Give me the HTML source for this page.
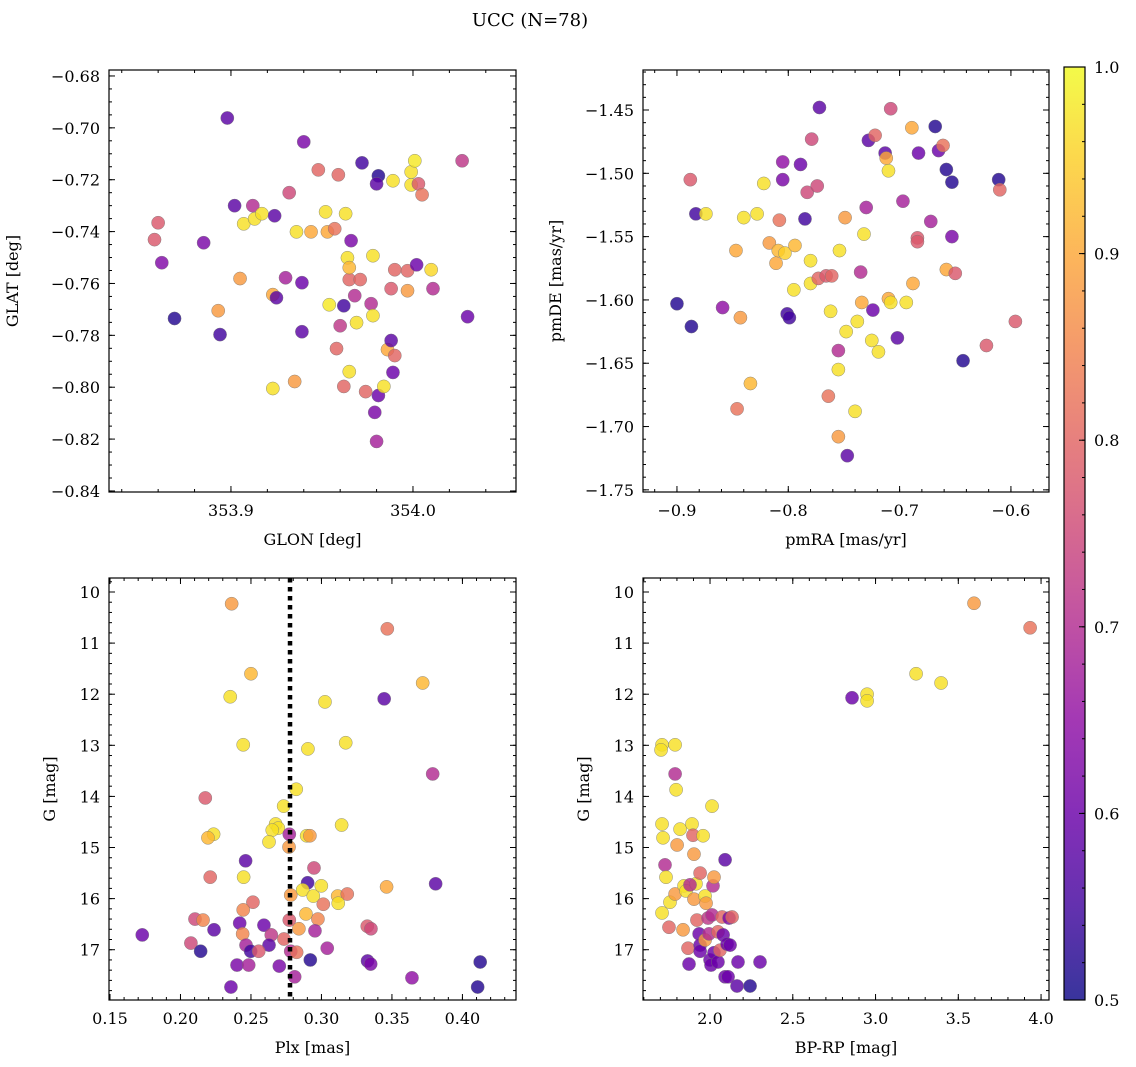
<!DOCTYPE html>
<html><head><meta charset="utf-8">
<style>
html,body{margin:0;padding:0;background:#fff;}
svg{display:block;font-family:"DejaVu Serif","Liberation Serif",serif;}
</style></head>
<body>
<svg id="chart" width="1136" height="1067" viewBox="0 0 1136 1067" xmlns="http://www.w3.org/2000/svg">
<text x="530" y="26" font-size="18" text-anchor="middle">UCC (N=78)</text>
</svg>
<script>
// ---- Panel 1: GLON / GLAT ----
const p1Lon=[353.898,353.860,353.858,353.862,353.869,353.885,353.894,353.893,353.902,353.907,353.912,353.913,353.917,353.924,353.905,353.923,353.925,353.930,353.932,353.936,353.939,353.940,353.939,353.935,353.923,353.944,353.948,353.952,353.953,353.957,353.959,353.954,353.958,353.960,353.963,353.962,353.964,353.965,353.965,353.965,353.966,353.962,353.968,353.969,353.971,353.972,353.974,353.977,353.978,353.978,353.979,353.980,353.981,353.980,353.981,353.984,353.986,353.988,353.989,353.988,353.990,353.989,353.990,353.997,353.997,353.999,353.999,354.001,354.003,354.005,354.002,354.010,354.011,354.027,354.030];
const p1Lat=[-0.6962,-0.7366,-0.7431,-0.7520,-0.7735,-0.7443,-0.7797,-0.7705,-0.7300,-0.7370,-0.7300,-0.7351,-0.7331,-0.7339,-0.7581,-0.7643,-0.7655,-0.7578,-0.7250,-0.7401,-0.7597,-0.7054,-0.7786,-0.7978,-0.8005,-0.7401,-0.7162,-0.7324,-0.7401,-0.7389,-0.7181,-0.7682,-0.7851,-0.7763,-0.7331,-0.7686,-0.7501,-0.7585,-0.7539,-0.7940,-0.7435,-0.7997,-0.7647,-0.7751,-0.7585,-0.7135,-0.8017,-0.7678,-0.7493,-0.7724,-0.8097,-0.8209,-0.7185,-0.7216,-0.8032,-0.7997,-0.7855,-0.7820,-0.7204,-0.7620,-0.7878,-0.7943,-0.7547,-0.7551,-0.7628,-0.7170,-0.7220,-0.7127,-0.7216,-0.7258,-0.7528,-0.7547,-0.7620,-0.7127,-0.7728];
const p1Prob=[0.58,0.78,0.78,0.63,0.52,0.62,0.55,0.88,0.58,0.97,0.7,0.97,0.97,0.58,0.88,0.9,0.58,0.68,0.75,0.97,0.6,0.62,0.58,0.88,0.97,0.9,0.8,0.97,0.9,0.82,0.8,0.98,0.8,0.72,0.97,0.55,0.97,0.8,0.92,0.97,0.62,0.8,0.7,0.97,0.8,0.55,0.8,0.7,0.97,0.97,0.62,0.68,0.52,0.58,0.6,0.97,0.9,0.58,0.97,0.78,0.8,0.6,0.8,0.8,0.88,0.97,0.97,0.98,0.78,0.82,0.6,0.96,0.7,0.72,0.6];
// ---- Panel 2: pmRA / pmDE ----
const p2RA=[-0.900,-0.888,-0.887,-0.883,-0.874,-0.859,-0.847,-0.843,-0.846,-0.840,-0.834,-0.828,-0.822,-0.817,-0.811,-0.809,-0.808,-0.805,-0.805,-0.803,-0.801,-0.799,-0.795,-0.794,-0.789,-0.785,-0.783,-0.780,-0.780,-0.779,-0.774,-0.772,-0.773,-0.766,-0.764,-0.762,-0.761,-0.755,-0.755,-0.755,-0.754,-0.749,-0.748,-0.747,-0.740,-0.738,-0.735,-0.732,-0.734,-0.728,-0.730,-0.725,-0.724,-0.722,-0.719,-0.713,-0.712,-0.710,-0.710,-0.708,-0.708,-0.702,-0.697,-0.694,-0.688,-0.689,-0.684,-0.684,-0.683,-0.672,-0.668,-0.665,-0.661,-0.658,-0.658,-0.653,-0.653,-0.650,-0.643,-0.622,-0.611,-0.610,-0.596];
const p2DE=[-1.603,-1.505,-1.621,-1.532,-1.532,-1.606,-1.561,-1.614,-1.686,-1.535,-1.666,-1.532,-1.508,-1.555,-1.571,-1.561,-1.537,-1.505,-1.491,-1.563,-1.611,-1.614,-1.592,-1.557,-1.493,-1.536,-1.515,-1.569,-1.587,-1.473,-1.510,-1.448,-1.583,-1.581,-1.676,-1.609,-1.581,-1.640,-1.655,-1.708,-1.561,-1.535,-1.625,-1.723,-1.688,-1.617,-1.578,-1.548,-1.602,-1.474,-1.527,-1.632,-1.608,-1.470,-1.641,-1.484,-1.488,-1.498,-1.599,-1.602,-1.449,-1.630,-1.522,-1.602,-1.587,-1.464,-1.551,-1.554,-1.484,-1.538,-1.463,-1.482,-1.478,-1.497,-1.576,-1.507,-1.550,-1.579,-1.648,-1.636,-1.505,-1.513,-1.617];
const p2Prob=[0.52,0.78,0.52,0.55,0.97,0.65,0.9,0.88,0.82,0.97,0.92,0.97,0.97,0.88,0.9,0.92,0.82,0.62,0.65,0.95,0.55,0.55,0.97,0.92,0.6,0.55,0.75,0.97,0.97,0.75,0.75,0.58,0.8,0.78,0.82,0.97,0.8,0.7,0.97,0.88,0.97,0.88,0.97,0.58,0.97,0.97,0.7,0.97,0.9,0.58,0.68,0.97,0.6,0.8,0.97,0.58,0.9,0.97,0.9,0.97,0.75,0.58,0.68,0.97,0.9,0.9,0.78,0.78,0.6,0.68,0.52,0.6,0.82,0.52,0.9,0.52,0.62,0.78,0.52,0.78,0.52,0.8,0.78];
// ---- Panel 3: Plx / G ----
const p3Plx=[0.2363,0.2500,0.2353,0.2445,0.2904,0.2176,0.2821,0.2732,0.2675,0.2694,0.2651,0.2235,0.2195,0.2628,0.2772,0.2770,0.2895,0.2918,0.2462,0.2211,0.2448,0.2947,0.2902,0.2867,0.2942,0.2782,0.2514,0.2445,0.2890,0.2103,0.2160,0.2420,0.2592,0.2772,0.2840,0.2238,0.1729,0.2441,0.2644,0.2734,0.2074,0.2465,0.2628,0.2143,0.2498,0.2555,0.2782,0.2824,0.2921,0.2401,0.2484,0.2701,0.2810,0.2358,0.3467,0.3718,0.3445,0.3025,0.3172,0.3789,0.3143,0.2999,0.3013,0.3115,0.3183,0.3119,0.3462,0.3810,0.2975,0.2954,0.3325,0.3351,0.3041,0.3327,0.3349,0.4126,0.3642,0.4108];
const p3G=[10.23,11.60,12.05,12.99,13.07,14.03,13.86,14.19,14.54,14.62,14.66,14.74,14.81,14.89,14.74,14.99,14.77,14.77,15.26,15.58,15.58,15.40,15.69,15.83,15.95,15.93,16.07,16.22,16.30,16.40,16.42,16.48,16.52,16.42,16.59,16.61,16.71,16.69,16.71,16.79,16.87,16.91,16.91,17.03,17.03,17.03,17.03,17.05,17.20,17.30,17.30,17.32,17.53,17.73,10.72,11.78,12.09,12.15,12.95,13.56,14.56,15.75,16.11,15.95,15.91,16.09,15.77,15.71,16.40,16.63,16.54,16.59,16.97,17.22,17.28,17.24,17.55,17.73];
const p3Prob=[0.88,0.92,0.97,0.97,0.97,0.78,0.97,0.97,0.97,0.97,0.97,0.97,0.92,0.97,0.68,0.88,0.97,0.88,0.58,0.8,0.97,0.75,0.55,0.97,0.97,0.88,0.8,0.85,0.92,0.75,0.85,0.6,0.6,0.78,0.88,0.58,0.6,0.85,0.72,0.8,0.75,0.68,0.58,0.52,0.55,0.78,0.7,0.82,0.52,0.62,0.68,0.62,0.68,0.6,0.82,0.92,0.58,0.97,0.97,0.7,0.97,0.97,0.82,0.92,0.82,0.97,0.9,0.58,0.85,0.68,0.78,0.75,0.68,0.58,0.62,0.52,0.65,0.52];
const p3Ref=[0.2777];
// ---- Panel 4: BP-RP / G ----
const p4C=[1.710,1.716,1.728,1.734,1.710,1.710,1.704,1.789,1.789,1.795,1.801,1.758,1.752,1.789,1.819,1.843,1.837,1.855,1.867,1.873,1.891,1.897,1.903,1.915,1.903,1.921,1.934,1.940,1.940,1.958,1.970,1.976,1.988,1.970,1.994,2.000,2.006,2.018,2.012,2.024,2.012,2.024,2.048,2.048,2.060,2.073,2.079,2.091,2.109,2.091,2.103,2.121,2.115,2.133,2.163,2.169,2.242,2.302,2.858,2.949,2.949,3.245,3.396,3.595,3.934,1.879,1.940];
const p4G=[14.54,14.81,15.34,15.58,16.28,12.99,13.09,12.99,13.56,13.87,14.95,16.07,16.56,15.91,14.64,15.75,16.61,15.85,16.97,17.28,14.54,14.76,15.13,15.71,16.01,16.42,16.69,16.91,17.03,14.77,15.95,16.09,16.38,16.81,16.69,17.20,17.30,15.75,16.32,17.06,14.19,15.58,16.65,17.24,17.01,16.36,16.71,17.53,17.53,15.24,16.89,16.91,16.38,16.36,17.71,17.24,17.71,17.24,12.07,12.00,12.13,11.60,11.78,10.22,10.70,15.73,15.50];
const p4Prob=[0.97,0.97,0.7,0.97,0.97,0.97,0.97,0.97,0.7,0.97,0.88,0.97,0.8,0.88,0.97,0.97,0.88,0.97,0.8,0.6,0.97,0.8,0.88,0.97,0.88,0.8,0.6,0.6,0.6,0.97,0.97,0.88,0.72,0.88,0.7,0.6,0.6,0.7,0.7,0.6,0.97,0.88,0.8,0.6,0.8,0.8,0.6,0.6,0.6,0.58,0.6,0.6,0.62,0.8,0.58,0.6,0.52,0.6,0.6,0.97,0.97,0.97,0.97,0.88,0.82,0.7,0.8];
// ---- Colorbar ----
const cbTicks=[0.5,0.6,0.7,0.8,0.9,1.0];

const NS="http://www.w3.org/2000/svg";
const svg=document.getElementById('chart');
function mk(tag,attrs,parent){const e=document.createElementNS(NS,tag);for(const k in attrs)e.setAttribute(k,attrs[k]);(parent||svg).appendChild(e);return e;}

const stops=["#0d0887","#41049d","#6a00a8","#8f0da4","#b12a90","#cc4778","#e16462","#f2844b","#fca636","#fcce25","#f0f921"];
function hex(h){return [parseInt(h.slice(1,3),16),parseInt(h.slice(3,5),16),parseInt(h.slice(5,7),16)];}
function plasma(t){t=Math.max(0,Math.min(1,t));const f=t*10,i=Math.min(9,Math.floor(f)),r=f-i;const a=hex(stops[i]),b=hex(stops[i+1]);return `rgb(${a.map((v,k)=>Math.round(v+(b[k]-v)*r)).join(',')})`;}
function pcol(p){return plasma((p-0.5)/0.5);}

function fmt(v,d){let s=v.toFixed(d);if(s.startsWith('-'))s='\u2212'+s.slice(1);return s;}

function panel(o){
  const g=mk('g',{});
  
  
  const sx=v=>o.x0+(v-o.xd[0])/(o.xd[1]-o.xd[0])*(o.x1-o.x0);
  const sy=v=>o.y0+(v-o.yd[0])/(o.yd[1]-o.yd[0])*(o.y1-o.y0);
  const xmin=Math.min(...o.xd),xmax=Math.max(...o.xd),ymin=Math.min(...o.yd),ymax=Math.max(...o.yd);
  const pg=mk('g',{},g);
  
  
  o.xs.forEach((xv,i)=>{
    const c=mk('circle',{cx:sx(xv),cy:sy(o.ys[i]),r:6.6,fill:pcol(o.ps[i]),'fill-opacity':0.82,stroke:'#777','stroke-width':0.5,'stroke-opacity':0.8},pg);
    
    
  });
  if(o.vline){o.vline.forEach(v=>{const l=mk('line',{x1:sx(v),x2:sx(v),y1:o.y0,y2:o.y1,stroke:'#000','stroke-width':4.5,'stroke-dasharray':'4.5 4.5'},g);
    
    });}
  const tg=mk('g',{stroke:'#000','stroke-width':1},g);
  function ticks(step,len,axis,label,dec){
    const lo=axis==='x'?xmin:ymin,hi=axis==='x'?xmax:ymax;
    for(let k=Math.ceil(lo/step-1e-6);k*step<=hi+1e-9;k++){
      const v=k*step;
      if(axis==='x'){const x=sx(v);mk('line',{x1:x,x2:x,y1:o.y1,y2:o.y1-len},tg);mk('line',{x1:x,x2:x,y1:o.y0,y2:o.y0+len},tg);
        if(label){const t=mk('text',{x:x,y:o.y1+24,'font-size':16,'text-anchor':'middle'},g);t.textContent=fmt(v,dec);
          
          }}
      else{const y=sy(v);mk('line',{x1:o.x0,x2:o.x0+len,y1:y,y2:y},tg);mk('line',{x1:o.x1,x2:o.x1-len,y1:y,y2:y},tg);
        if(label){const t=mk('text',{x:o.x0-9,y:y+6,'font-size':16,'text-anchor':'end'},g);t.textContent=fmt(v,dec);
          
          }}
    }
  }
  ticks(o.xminor,3,'x',false);ticks(o.xmajor,6,'x',true,o.xdec);
  ticks(o.yminor,3,'y',false);ticks(o.ymajor,6,'y',true,o.ydec);
  const fr=mk('rect',{x:o.x0,y:o.y0,width:o.x1-o.x0,height:o.y1-o.y0,fill:'none',stroke:'#000','stroke-width':1.2},g);
  
  
  const xl=mk('text',{x:(o.x0+o.x1)/2,y:o.y1+53,'font-size':16,'text-anchor':'middle'},g);xl.textContent=o.xlabel;
  
  
  const yx=o.x0-o.ylabOff,yy=(o.y0+o.y1)/2;
  const yl=mk('text',{x:yx,y:yy,'font-size':16,'text-anchor':'middle',transform:`rotate(-90 ${yx} ${yy})`},g);yl.textContent=o.ylabel;
  
  
}

panel({name:'glon-glat-panel',x0:109,x1:516,y0:70,y1:492,xd:[353.833,354.0566],yd:[-0.6777,-0.8404],xs:p1Lon,ys:p1Lat,ps:p1Prob,xmajor:0.1,xminor:0.02,ymajor:0.02,yminor:0.005,xdec:1,ydec:2,xlabel:'GLON [deg]',ylabel:'GLAT [deg]',ylabOff:91});
panel({name:'pm-panel',x0:643,x1:1049,y0:70,y1:492,xd:[-0.9305,-0.5658],yd:[-1.4184,-1.7517],xs:p2RA,ys:p2DE,ps:p2Prob,xmajor:0.1,xminor:0.02,ymajor:0.05,yminor:0.01,xdec:1,ydec:2,xlabel:'pmRA [mas/yr]',ylabel:'pmDE [mas/yr]',ylabOff:82});
panel({name:'plx-g-panel',x0:109,x1:516,y0:578,y1:1000,xd:[0.1493,0.4380],yd:[9.726,17.984],xs:p3Plx,ys:p3G,ps:p3Prob,vline:p3Ref,xmajor:0.05,xminor:0.01,ymajor:1,yminor:0.2,xdec:2,ydec:0,xlabel:'Plx [mas]',ylabel:'G [mag]',ylabOff:54});
panel({name:'cmd-panel',x0:643,x1:1049,y0:578,y1:1000,xd:[1.595,4.048],yd:[9.726,17.984],xs:p4C,ys:p4G,ps:p4Prob,xmajor:0.5,xminor:0.1,ymajor:1,yminor:0.2,xdec:1,ydec:0,xlabel:'BP-RP [mag]',ylabel:'G [mag]',ylabOff:54});

(function(){
  const x0=1064,x1=1085,y0=67,y1=1000;
  const g=mk('g',{});
  
  
  const defs=mk('defs',{},g);
  const lg=mk('linearGradient',{id:'cbgrad',x1:0,y1:1,x2:0,y2:0},defs);
  for(let i=0;i<=20;i++){mk('stop',{offset:i/20,'stop-color':plasma(i/20)},lg);}
  mk('rect',{x:x0,y:y0,width:x1-x0,height:y1-y0,fill:'url(#cbgrad)','fill-opacity':0.82},g);
  mk('rect',{x:x0,y:y0,width:x1-x0,height:y1-y0,fill:'none',stroke:'#000','stroke-width':1.2},g);
  const sy=v=>y1-(v-0.5)/0.5*(y1-y0);
  for(let v=0.5;v<=1.0001;v+=0.02){const y=sy(v);mk('line',{x1:x1,x2:x1-3,y1:y,y2:y,stroke:'#000'},g);}
  cbTicks.forEach(v=>{const y=sy(v);mk('line',{x1:x1,x2:x1-6,y1:y,y2:y,stroke:'#000'},g);
    const t=mk('text',{x:x1+9,y:y+6,'font-size':16},g);t.textContent=v.toFixed(1);
    
    });
})();
</script>
</body></html>
